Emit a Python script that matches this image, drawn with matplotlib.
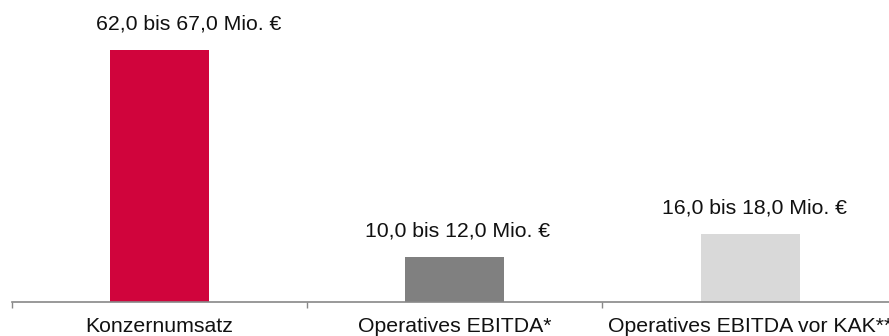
import numpy as np
import matplotlib.pyplot as plt

plt.rcParams['font.family'] = ['Liberation Sans', 'DejaVu Sans']

# Daten
categories = ['Konzernumsatz', 'Operatives EBITDA*', 'Operatives EBITDA vor KAK**']
values = [67.0, 12.0, 18.0]
value_labels = ['62,0 bis 67,0 Mio. €', '10,0 bis 12,0 Mio. €', '16,0 bis 18,0 Mio. €']
colors = ['#D0043C', '#808080', '#D9D9D9']
label_dx = [0.1, 0.01, 0.015]  # kleine Verschiebung der Beschriftungen

fig = plt.figure(figsize=(8.89, 3.36), dpi=100)
ax = fig.add_axes([11.5 / 889, 34 / 336, 886.5 / 889, 302 / 336])

x = np.arange(len(categories))
ax.bar(x, values, width=0.335, color=colors)

for xi, v, lab, dx in zip(x, values, value_labels, label_dx):
    ax.annotate(lab, xy=(xi + dx, v), xytext=(0, 18.7), textcoords='offset points',
                ha='center', va='center', fontsize=15.3, color='#111111')

ax.set_xlim(-0.5, 2.5)
ax.set_ylim(0, 80.3)

ax.set_xticks(x)
ax.set_xticklabels(categories, fontsize=15.3, color='#111111')
ax.tick_params(axis='x', which='major', length=0, pad=11)
ax.set_xticks(np.arange(-0.5, 3.0, 1.0), minor=True)
ax.tick_params(axis='x', which='minor', length=4, width=1, color='#888888')

ax.set_yticks([])
for side in ['top', 'right', 'left']:
    ax.spines[side].set_visible(False)
ax.spines['bottom'].set_color('#888888')
ax.spines['bottom'].set_linewidth(1.2)

fig.savefig('out.png', dpi=100)
